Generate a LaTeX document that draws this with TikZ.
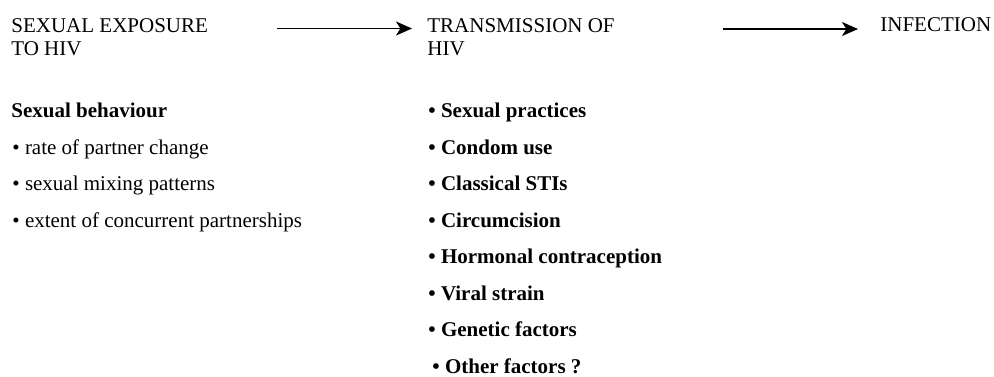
\documentclass[tikz,border=0pt]{standalone}
\usepackage{fontspec}
\setmainfont{Liberation Serif}
\usetikzlibrary{arrows.meta}

\tikzset{
  txt/.style={anchor=base west,inner sep=0pt,font=\fontsize{10.5}{11.5}\selectfont},
  head/.style={txt,align=left},
  item/.style={txt,font=\fontsize{10.5}{11.5}\selectfont\bfseries},
  flow/.style={line width=0.9pt,-{Stealth[length=8pt,width=7pt,inset=2.2pt]}}
}

\begin{document}
\begin{tikzpicture}[x=0.5pt,y=-0.5pt]
\useasboundingbox (0,0) rectangle (994,376);

% headings (base = last line)
\node[head] (expo) at (11,55) {SEXUAL EXPOSURE\\TO HIV};
\node[head] (trans) at (427,55) {TRANSMISSION OF\\HIV};
\node[head] (inf) at (880,31.5) {INFECTION};

\coordinate (s1) at (277,28.5);
\coordinate (s2) at (723,29);
\draw[flow,shorten >=7.5pt] (s1) -- (s1 -| trans.west);
\draw[flow,shorten >=11pt] (s2) -- (s2 -| inf.west);

% exposure side
\node[item] (beh) at (11,117.5) {Sexual behaviour};
\foreach \t [count=\i] in {rate of partner change,sexual mixing patterns,extent of concurrent partnerships}{
	\node[txt] (b\i) at (12,117.5+36.5*\i) {• \t};}

% transmission side
\foreach \t [count=\i] in {Sexual practices,Condom use,Classical STIs,Circumcision,Hormonal contraception,Viral strain,Genetic factors}{
	\node[item] (f\i) at (428,81+36.5*\i) {• \t};}
\node[item] (f8) at (432,373) {• Other factors ?};

\end{tikzpicture}
\end{document}
